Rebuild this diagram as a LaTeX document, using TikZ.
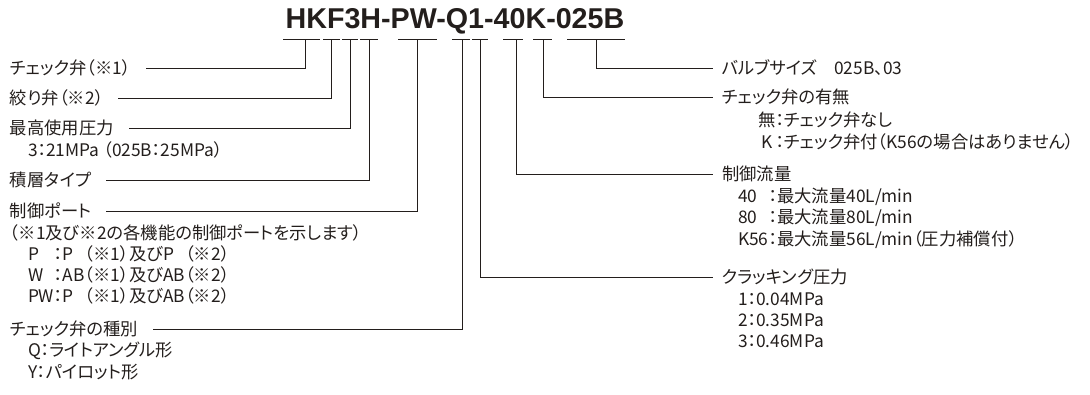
\documentclass[tikz,border=0pt]{standalone}
\usepackage{fontspec}
\usepackage{calc}
\setmainfont{Noto Sans CJK JP}[RawFeature=+palt]
\newfontfamily\titlefont{Liberation Sans}
\usetikzlibrary{positioning}
\definecolor{ink}{RGB}{35,30,28}
\newcommand{\codebox}[2]{\makebox[\widthof{#1}][l]{#2}}
\tikzset{
  lbl/.style={anchor=west,inner sep=0pt,outer sep=0pt,font=\fontsize{13}{15}\selectfont,text=ink},
  codetitle/.style={anchor=base,inner sep=0pt,font=\titlefont\bfseries\fontsize{21.5}{24}\selectfont,text=ink},
  lead/.style={draw=ink,line width=0.75pt},
  bar/.style={lead}
}
\begin{document}
\begin{tikzpicture}[x=0.75pt,y=-0.75pt]
  \useasboundingbox (0,0) rectangle (1090,394);
  \node[codetitle] (code) at (455,28) {HKF3H-PW-Q1-40K-025B};

  % bars under the code letters
  \foreach \n/\a/\b/\t in {1/283/320/305, 2/323/340/331, 3/342/358/350, 4/360/378/369,
      5/398/437/417, 6/452/470/462, 7/472/488/480, 8/503/523/516, 9/533/552/543, 10/567/625/596} {
    \draw[bar] (\a,39) -- (\b,39);
    \coordinate (t\n) at (\t,39);
  }

  % left side
  \node[lbl] (chk) at (10,68) {チェック弁（※1）};
  \node[lbl] (thr) at (10,98) {絞り弁（※2）};
  \node[lbl] (prs) at (10,128) {最高使用圧力};
  \node[lbl] (prsv) at (28,150) {3：21MPa （025B：25MPa）};
  \node[lbl] (stk) at (10,180) {積層タイプ};
  \node[lbl] (port) at (10,211) {制御ポート};
  \node[lbl] (portn) at (10,233) {（※1及び※2の各機能の制御ポートを示します）};
  \node[lbl] (portp) at (28,254) {\codebox{PW}{P}：\codebox{AB}{P}（※1）及び\codebox{AB}{P}（※2）};
  \node[lbl] (portw) at (28,275) {\codebox{PW}{W}：AB（※1）及びAB（※2）};
  \node[lbl] (portpw) at (28,296) {PW：\codebox{AB}{P}（※1）及びAB（※2）};
  \node[lbl] (kind) at (10,329) {チェック弁の種別};
  \node[lbl] (kindq) at (28,351) {Q：ライトアングル形};
  \node[lbl] (kindy) at (28,372) {Y：パイロット形};

  % right side
  \node[lbl] (size) at (722,68) {バルブサイズ　025B、03};
  \node[lbl] (cv) at (722,97) {チェック弁の有無};
  \node[lbl] (cvn) at (758,120) {無：チェック弁なし};
  \node[lbl] (cvk) at (758,142) {\makebox[\widthof{無}]{K}：チェック弁付（K56の場合はありません）};
  \node[lbl] (flow) at (722,174) {制御流量};
  \node[lbl] (flow40) at (738,197) {\codebox{K56}{40}：最大流量40L/min};
  \node[lbl] (flow80) at (738,218) {\codebox{K56}{80}：最大流量80L/min};
  \node[lbl] (flowk) at (738,240) {K56：最大流量56L/min（圧力補償付）};
  \node[lbl] (crk) at (722,277) {クラッキング圧力};
  \node[lbl] (crk1) at (738,299) {1：0.04MPa};
  \node[lbl] (crk2) at (738,320) {2：0.35MPa};
  \node[lbl] (crk3) at (738,341) {3：0.46MPa};

  % leaders
  \draw[lead] (t1) |- ([xshift=11pt]chk.east);
  \draw[lead] (t2) |- ([xshift=11pt]thr.east);
  \draw[lead] (t3) |- ([xshift=11pt]prs.east);
  \draw[lead] (t4) |- ([xshift=11pt]stk.east);
  \draw[lead] (t5) |- ([xshift=11pt]port.east);
  \draw[lead] (t6) |- ([xshift=11pt]kind.east);
  \draw[lead] (t7) |- ([xshift=-7pt]crk.west);
  \draw[lead] (t8) |- ([xshift=-7pt]flow.west);
  \draw[lead] (t9) |- ([xshift=-7pt]cv.west);
  \draw[lead] (t10) |- ([xshift=-7pt]size.west);
\end{tikzpicture}
\end{document}
